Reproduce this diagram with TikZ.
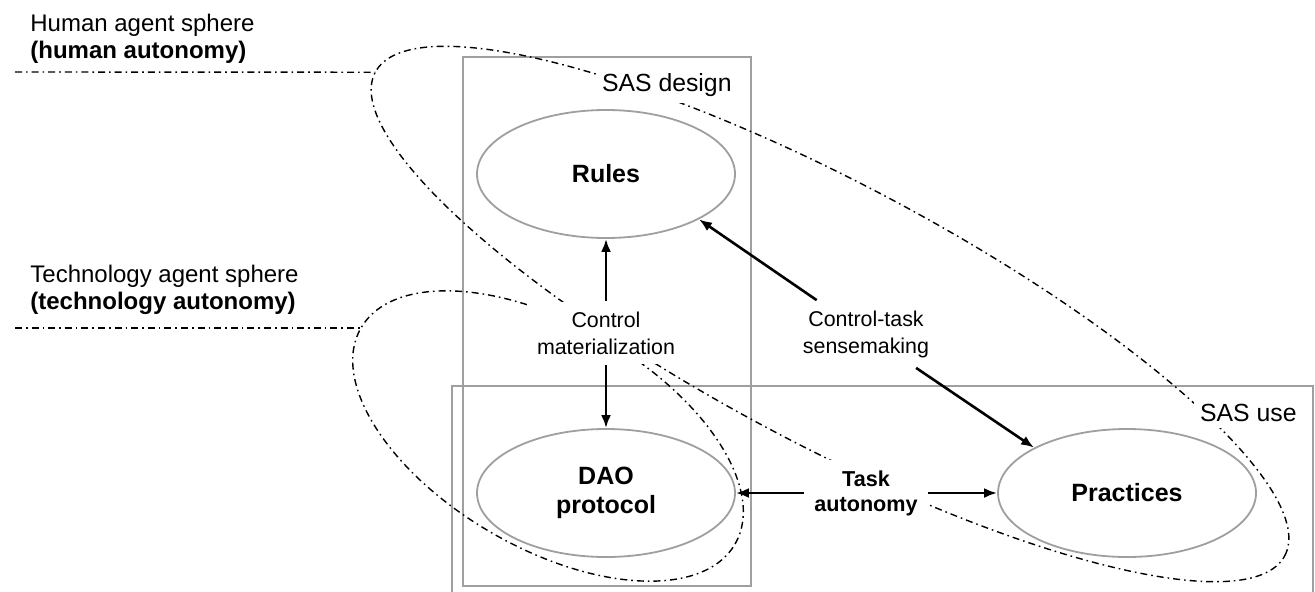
\documentclass[tikz,border=0pt]{standalone}
\usepackage{fontspec}
\setmainfont{Liberation Sans}
\usetikzlibrary{arrows.meta,positioning,shapes.geometric}

\tikzset{
  box/.style={draw=gray!75, line width=1pt},
  dashdot/.style={draw=black, line width=0.7pt, dash pattern=on 3.5pt off 2pt on 0.8pt off 2pt},
  sphere/.style={dashdot, ellipse, inner sep=0pt, outer sep=0pt},
  element/.style={draw=gray!75, line width=0.9pt, fill=white, ellipse, minimum width=129pt, minimum height=64pt, inner sep=0pt, align=center, font=\fontsize{12.5}{14.5}\selectfont\bfseries},
  lbl/.style={fill=white, inner sep=5pt, align=center, font=\fontsize{10.7}{13.5}\selectfont},
  caption/.style={fill=white, inner sep=3pt, font=\fontsize{12.4}{14}\selectfont},
  side/.style={anchor=west, align=left, inner sep=0pt, font=\fontsize{12}{13.5}\selectfont}
}

\begin{document}
\begin{tikzpicture}[x=0.5pt, y=0.5pt, node distance=2cm, on grid, >={Latex[length=6.5pt,width=5pt]}]
\clip (0,0) rectangle (1315,591);

% SAS boxes
\draw[box] (463,5) rectangle (751,534);
\draw[box] (452,-20) rectangle (1313,205);

% agent spheres
\node[sphere, minimum width=515pt, minimum height=130pt, rotate=-28] (human) at (830,277) {};
\node[sphere, minimum width=216pt, minimum height=112pt, rotate=-30] (tech) at (548,155) {};

\node[side] (humantxt) at (30,552) {Human agent sphere\\\textbf{(human autonomy)}};
\node[side] (techtxt) at (30,301) {Technology agent sphere\\\textbf{(technology autonomy)}};
\coordinate (humanend) at (15,519);
\coordinate (techend) at (15,263);
\draw[dashdot] (humanend) -- (human.west);
\draw[dashdot] (techend) -- (tech.west);

% elements
\node[element] (rules) at (606,417) {Rules};
\node[element] (dao) [below=159.5pt of rules] {DAO\\protocol};
\node[element] (prac) [right=260.5pt of dao] {Practices};

\node[caption, anchor=east] (design) at (738,506) {SAS design};
\node[caption, anchor=east] (use) at (1303,178) {SAS use};

\node[lbl] (ctrl) [above=80pt of dao] {Control\\materialization};
\node[lbl, font=\fontsize{10.8}{12.5}\selectfont\bfseries] (task) [right=130pt of dao] {Task\\autonomy};
\node[lbl] (sense) [above=79.5pt of task] {Control-task\\sensemaking};

\path[->, line width=1.3pt]
  (ctrl) edge (rules)
         edge (dao)
  (sense) edge (rules.-26)
          edge (prac.154)
  (task) edge (dao)
         edge (prac);
\end{tikzpicture}
\end{document}
